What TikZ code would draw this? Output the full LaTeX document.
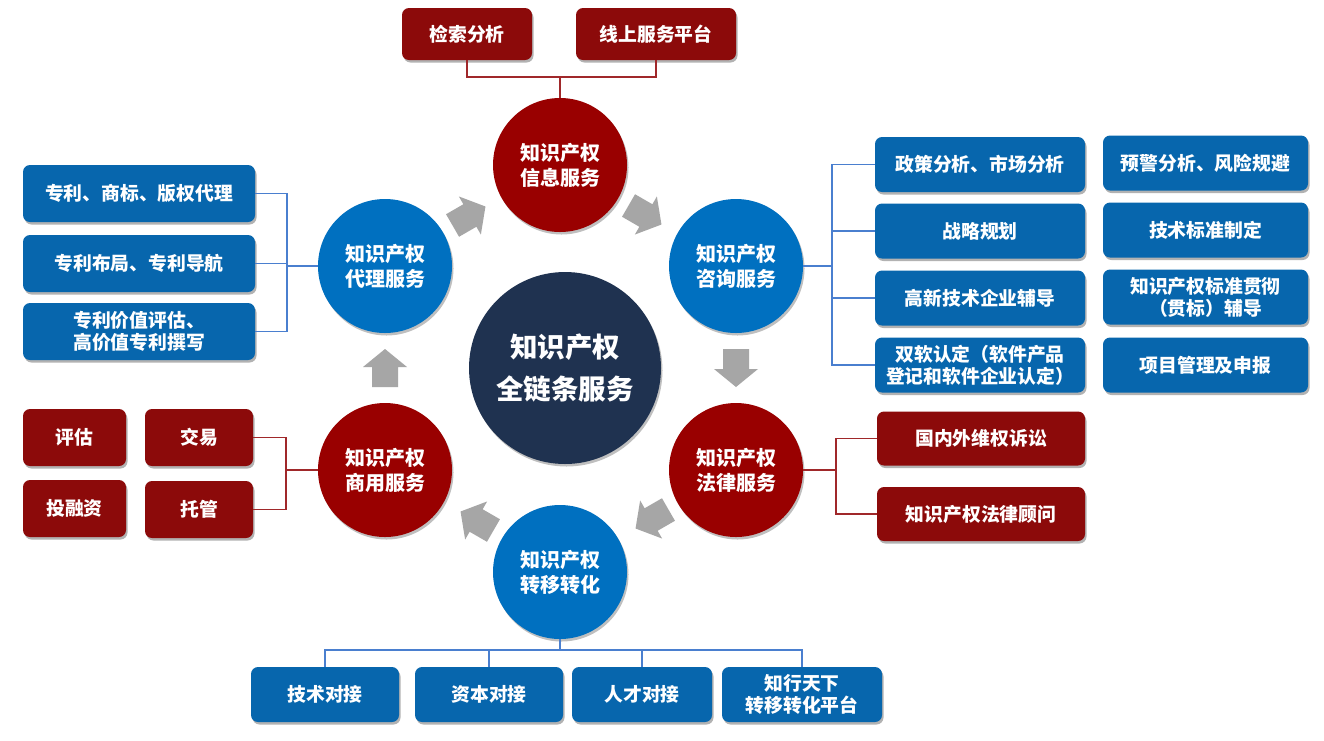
\documentclass[tikz,border=0pt]{standalone}
\usepackage{fontspec}
\newfontfamily\cjk{Noto Sans CJK SC}
\usetikzlibrary{shadows}
\definecolor{boxblue}{HTML}{0766AD}
\definecolor{circblue}{HTML}{0070C0}
\definecolor{boxred}{HTML}{8C0A0A}
\definecolor{circred}{HTML}{990000}
\definecolor{navy}{HTML}{1F3250}
\definecolor{arrowgray}{HTML}{A6A6A6}
\definecolor{bluelink}{HTML}{4A7FCF}
\definecolor{redlink}{HTML}{A0282A}
\tikzset{
  boxbase/.style={rounded corners=7pt, text=white, align=center, inner sep=0pt,
    font=\cjk\bfseries\fontsize{18.8}{22}\selectfont,
    drop shadow={shadow xshift=1.5pt, shadow yshift=-2.5pt, opacity=0.3, fill=black}},
  bbox/.style={boxbase, fill=boxblue},
  rbox/.style={boxbase, fill=boxred},
  circbase/.style={circle, minimum size=134pt, inner sep=0pt, text=white, align=center,
    font=\cjk\bfseries\fontsize{20}{25}\selectfont,
    drop shadow={shadow xshift=1.5pt, shadow yshift=-2.5pt, opacity=0.25, fill=black}},
  bcirc/.style={circbase, fill=circblue},
  rcirc/.style={circbase, fill=circred},
  bline/.style={draw=bluelink, line width=1.5pt},
  rline/.style={draw=redlink, line width=1.5pt},
  blockarrow/.pic={\fill[arrowgray] (-19pt,-13pt) -- (1pt,-13pt) -- (1pt,-22pt) -- (19pt,0pt) -- (1pt,22pt) -- (1pt,13pt) -- (-19pt,13pt) -- cycle;}
}
\begin{document}
\begin{tikzpicture}[x=1pt, y=-1pt]
\useasboundingbox (0,0) rectangle (1324,740);
\fill[white] (0,0) rectangle (1324,740);

% centre
\node[circle, minimum size=192pt, inner sep=0pt, fill=navy, text=white, align=center,
  font=\cjk\bfseries\fontsize{27.5}{42}\selectfont,
  drop shadow={shadow xshift=1.5pt, shadow yshift=-2.5pt, opacity=0.25, fill=black}]
  (c0) at (565,368) {知识产权\\全链条服务};

% ring circles
\node[rcirc] (c1) at (560,165) {知识产权\\信息服务};
\node[bcirc] (c2) at (736,266) {知识产权\\咨询服务};
\node[rcirc] (c4) at (736,470) {知识产权\\法律服务};
\node[bcirc] (c3) at (560,572) {知识产权\\转移转化};
\node[rcirc] (c5) at (385,470) {知识产权\\商用服务};
\node[bcirc] (c6) at (385,266) {知识产权\\代理服务};

% gray arrows
\pic[rotate=30] at (469,216) {blockarrow};
\pic[rotate=-30] at (645,215) {blockarrow};
\pic[rotate=-90] at (736,368) {blockarrow};
\pic[rotate=210] at (652,519) {blockarrow};
\pic[rotate=150] at (477,521) {blockarrow};
\pic[rotate=90] at (385,368) {blockarrow};

% top boxes
\node[rbox, minimum width=130pt, minimum height=52pt] (t1) at (467,34) {检索分析};
\node[rbox, minimum width=160pt, minimum height=52pt] (t2) at (656,34) {线上服务平台};

% right boxes
\node[bbox, minimum width=210pt, minimum height=55pt] (r1) at (980,164.5) {政策分析、市场分析};
\node[bbox, minimum width=210pt, minimum height=55pt] (r2) at (980,231) {战略规划};
\node[bbox, minimum width=210pt, minimum height=55pt] (r3) at (980,298) {高新技术企业辅导};
\node[bbox, minimum width=210pt, minimum height=55pt] (r4) at (980,365) {双软认定（软件产品\\登记和软件企业认定）};
\node[bbox, minimum width=205pt, minimum height=55pt] (s1) at (1205.5,163) {预警分析、风险规避};
\node[bbox, minimum width=205pt, minimum height=55pt] (s2) at (1205.5,230) {技术标准制定};
\node[bbox, minimum width=205pt, minimum height=55pt] (s3) at (1205.5,297) {知识产权标准贯彻\\（贯标）辅导};
\node[bbox, minimum width=205pt, minimum height=55pt] (s4) at (1205.5,365) {项目管理及申报};

% law boxes
\node[rbox, minimum width=208pt, minimum height=54pt] (g1) at (981,438.5) {国内外维权诉讼};
\node[rbox, minimum width=208pt, minimum height=54pt] (g2) at (981,514) {知识产权法律顾问};

% left blue boxes
\node[bbox, minimum width=232pt, minimum height=57pt] (l1) at (139,193.5) {专利、商标、版权代理};
\node[bbox, minimum width=232pt, minimum height=57pt] (l2) at (139,263.5) {专利布局、专利导航};
\node[bbox, minimum width=232pt, minimum height=57pt] (l3) at (139,331.5) {专利价值评估、\\高价值专利撰写};

% left red boxes
\node[rbox, minimum width=103pt, minimum height=57pt] (m1) at (74.5,437.5) {评估};
\node[rbox, minimum width=108pt, minimum height=57pt] (m2) at (199,437.5) {交易};
\node[rbox, minimum width=103pt, minimum height=57pt] (m3) at (74.5,508.5) {投融资};
\node[rbox, minimum width=108pt, minimum height=57pt] (m4) at (199,509.5) {托管};

% bottom boxes
\node[bbox, minimum width=148pt, minimum height=55pt] (b1) at (325,694.5) {技术对接};
\node[bbox, minimum width=148pt, minimum height=55pt] (b2) at (489,694.5) {资本对接};
\node[bbox, minimum width=140pt, minimum height=55pt] (b3) at (642,694.5) {人才对接};
\node[bbox, minimum width=160pt, minimum height=55pt] (b4) at (802,694.5) {知行天下\\转移转化平台};

% junctions
\coordinate (j1) at (560,77);
\coordinate (j2) at (832,266);
\coordinate (j4) at (836,470);
\coordinate (j3) at (560,650);
\coordinate (j5) at (286,470);
\coordinate (j6) at (287,266);

% connectors
\draw[rline] (t1.south) |- (j1) -| (t2.south);
\draw[rline] (j1) -- (c1.north);

\draw[bline] (c2.east) -- (j2);
\draw[bline] (r1.west) -| (j2);
\draw[bline] (r4.west) -| (j2);
\draw[bline] (r2.west) -- (j2 |- r2.west);
\draw[bline] (r3.west) -- (j2 |- r3.west);

\draw[rline] (c4.east) -- (j4);
\draw[rline] (g1.west) -| (j4);
\draw[rline] (g2.west) -| (j4);

\draw[bline] (c3.south) -- (j3);
\draw[bline] (b1.north) |- (j3) -| (b4.north);
\draw[bline] (b2.north) -- (b2.north |- j3);
\draw[bline] (b3.north) -- (b3.north |- j3);

\draw[bline] (l1.east) -| (j6);
\draw[bline] (l3.east) -| (j6);
\draw[bline] (l2.east) -- (j6 |- l2.east);
\draw[bline] (j6) -- (c6.west);

\draw[rline] (m2.east) -| (j5);
\draw[rline] (m4.east) -| (j5);
\draw[rline] (j5) -- (c5.west);
\end{tikzpicture}
\end{document}
